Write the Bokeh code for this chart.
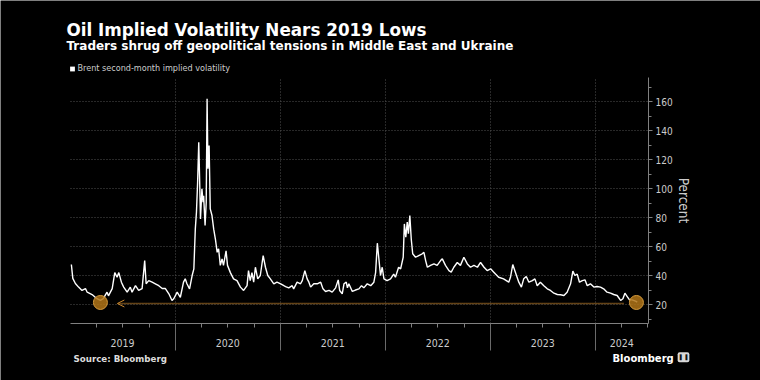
import pandas as pd
from bokeh.plotting import figure
from bokeh.models import (Range1d, FixedTicker, Label, Arrow, OpenHead, Grid,
                          ColumnDataSource, CustomJSTickFormatter, DatetimeAxis,
                          LinearAxis, Legend, LegendItem)
from bokeh.embed import file_html
from bokeh.resources import INLINE

TITLE = "Oil Implied Volatility Nears 2019 Lows"
SUBTITLE = "Traders shrug off geopolitical tensions in Middle East and Ukraine"
LEGEND_TEXT = "Brent second-month implied volatility"
SOURCE = "Source:  Bloomberg"
BRAND = "Bloomberg"
Y_LABEL = "Percent"

years = [2019, 2020, 2021, 2022, 2023, 2024]
year_labels = ["2019", "2020", "2021", "2022", "2023", "2024"]
y_ticks = [20, 40, 60, 80, 100, 120, 140, 160]
y_minor = [10, 30, 50, 70, 90, 110, 130, 150, 170]

dates = [
    "2019-01-04", "2019-01-09", "2019-01-18", "2019-01-29", "2019-02-10", "2019-02-22",
    "2019-02-28", "2019-03-17", "2019-04-03", "2019-04-15", "2019-04-25", "2019-05-08",
    "2019-05-13", "2019-05-26", "2019-06-04", "2019-06-12", "2019-06-18", "2019-06-27",
    "2019-07-05", "2019-07-17", "2019-07-28", "2019-08-03", "2019-08-15", "2019-08-26",
    "2019-09-07", "2019-09-16", "2019-09-21", "2019-09-30", "2019-10-12", "2019-10-23",
    "2019-11-04", "2019-11-16", "2019-11-27", "2019-12-09", "2019-12-20", "2019-12-26",
    "2020-01-07", "2020-01-18", "2020-01-29", "2020-02-04", "2020-02-10", "2020-02-19",
    "2020-02-28", "2020-03-05", "2020-03-10", "2020-03-14", "2020-03-18", "2020-03-22",
    "2020-03-25", "2020-03-28", "2020-04-02", "2020-04-06", "2020-04-08", "2020-04-13",
    "2020-04-17", "2020-04-20", "2020-04-23", "2020-04-27", "2020-05-01", "2020-05-07",
    "2020-05-13", "2020-05-19", "2020-05-25", "2020-05-30", "2020-06-05", "2020-06-11",
    "2020-06-16", "2020-06-25", "2020-06-30", "2020-07-10", "2020-07-21", "2020-08-02",
    "2020-08-14", "2020-08-25", "2020-09-06", "2020-09-11", "2020-09-17", "2020-09-23",
    "2020-09-29", "2020-10-05", "2020-10-13", "2020-10-22", "2020-11-01", "2020-11-09",
    "2020-11-17", "2020-11-26", "2020-12-08", "2020-12-19",
    "2021-01-01", "2021-01-12", "2021-01-18", "2021-01-29", "2021-02-10", "2021-02-15",
    "2021-02-27", "2021-03-11", "2021-03-17", "2021-03-26", "2021-04-03", "2021-04-09",
    "2021-04-15", "2021-04-26", "2021-05-08", "2021-05-20", "2021-05-28", "2021-06-06",
    "2021-06-18", "2021-06-29", "2021-07-11", "2021-07-20", "2021-07-25", "2021-08-03",
    "2021-08-09", "2021-08-17", "2021-08-21", "2021-08-26", "2021-09-07", "2021-09-18",
    "2021-09-30", "2021-10-09", "2021-10-17", "2021-10-29", "2021-11-10", "2021-11-21",
    "2021-11-27", "2021-12-03", "2021-12-09", "2021-12-14", "2021-12-20", "2021-12-26",
    "2022-01-06", "2022-01-18", "2022-01-29", "2022-02-04", "2022-02-15", "2022-02-22",
    "2022-03-03", "2022-03-07", "2022-03-12", "2022-03-17", "2022-03-21", "2022-03-26",
    "2022-03-31", "2022-04-05", "2022-04-15", "2022-04-26", "2022-05-08", "2022-05-14",
    "2022-05-20", "2022-05-26", "2022-06-06", "2022-06-18", "2022-06-29", "2022-07-11",
    "2022-07-17", "2022-07-28", "2022-08-09", "2022-08-17", "2022-08-26", "2022-09-07",
    "2022-09-18", "2022-09-30", "2022-10-12", "2022-10-23", "2022-11-04", "2022-11-16",
    "2022-11-27", "2022-12-09", "2022-12-20",
    "2023-01-01", "2023-01-12", "2023-01-18", "2023-01-29", "2023-02-15", "2023-03-05",
    "2023-03-11", "2023-03-19", "2023-03-28", "2023-04-09", "2023-04-18", "2023-04-26",
    "2023-05-05", "2023-05-14", "2023-05-26", "2023-06-04", "2023-06-12", "2023-06-23",
    "2023-07-05", "2023-07-17", "2023-07-28", "2023-08-09", "2023-08-21", "2023-09-01",
    "2023-09-13", "2023-09-24", "2023-10-06", "2023-10-14", "2023-10-21", "2023-10-29",
    "2023-11-06", "2023-11-16", "2023-11-25", "2023-12-03", "2023-12-14", "2023-12-26",
    "2024-01-06", "2024-01-18", "2024-01-29", "2024-02-10", "2024-02-22", "2024-03-04",
    "2024-03-16", "2024-03-28", "2024-04-05", "2024-04-12", "2024-04-20", "2024-04-28",
    "2024-05-07", "2024-05-19", "2024-05-25",
]
vol = [
    47.6, 38, 34.5, 32, 29.7, 31,
    28.5, 26.9, 24, 22.8, 24, 28.5,
    26, 31, 42, 38.8, 42, 35.4,
    32, 28.5, 32, 28.5, 33, 29.7,
    31, 50.3, 34.3, 36.5, 35.4, 34.3,
    33, 31, 31, 27.4, 22.8, 24,
    28.5, 25, 35.4, 37.7, 34.3, 30.8,
    40, 44.6, 72, 83.6, 104, 132,
    106.7, 79, 99.8, 90.6, 95, 74.5,
    90.6, 162, 113.6, 129.7, 86, 81.4,
    72, 65, 56, 58.4, 47, 51.5,
    47, 57, 47, 42, 37.7, 36.5,
    32, 29.7, 33, 43.4, 36.5, 42,
    35.4, 45.7, 37.7, 40, 53.8, 45.7,
    40, 37.7, 34.3, 35.4,
    34.3, 33, 32.4, 31.5, 33, 30.8,
    35.4, 34.3, 36.5, 43.4, 37.7, 35.4,
    32, 34.3, 34.3, 35.4, 30.8, 29,
    29.7, 28.5, 31.5, 37, 29.7, 27.4,
    34.3, 35.4, 31.5, 34.3, 29, 30,
    30.8, 33, 31.5, 34.3, 33, 35.4,
    42, 62.3, 50.3, 40, 45.7, 37.7,
    36.5, 37.7, 41, 38.8, 45.7, 44.6,
    52.6, 75.6, 66.4, 76.8, 68.8, 81.4,
    65, 55, 52.6, 53.8, 55, 56,
    50.3, 45.7, 47, 48, 47, 50.3,
    51.5, 47, 43.4, 42.3, 45.7, 49,
    47, 52.6, 48, 45.7, 47, 45.7,
    49, 45.7, 43.4,
    44.6, 42.3, 41, 38.8, 37.7, 35.4,
    38.8, 47.6, 42.3, 35.4, 32, 37.7,
    39.3, 35.4, 36.5, 37.7, 33, 35.4,
    33, 30.8, 29.7, 27.8, 26.9, 26.7,
    26.2, 28.5, 34.3, 43, 40, 41,
    35.4, 36.5, 37, 33, 34.3, 32,
    32.4, 32, 30.8, 28.5, 27.8, 26.9,
    26.2, 22.8, 24, 27.8, 25.5, 23.2,
    23.2, 22.3, 21.6,
]

low_dates = ["2019-04-15", "2024-05-22"]
low_vals = [21.4, 21.4]
arrow_from = "2024-04-07"
arrow_to = "2019-06-13"
arrow_level = 20.7

x_start, x_end = "2019-01-01", "2024-07-03"
y_min, y_max = 6.9, 176.6

# layout (pixels)
W, H = 760, 380
PX_L, PX_R, PX_T, PX_B = 70, 648, 77, 323

ORANGE = "#c9872e"
GRID = "#505050"
AXIS = "#808080"
TXT = "#cccccc"
REG = "'DejaVu Sans Condensed', 'DejaVu Sans', sans-serif"
BOLD = "DejaVu Sans"


def ms(s):
    return pd.Timestamp(s).value / 1e6


mpp = (ms(x_end) - ms(x_start)) / (PX_R - PX_L)
vpp = (y_max - y_min) / (PX_B - PX_T)
xr = Range1d(ms(x_start) - PX_L * mpp, ms(x_end) + (W - PX_R) * mpp)
yr = Range1d(y_min - (H - PX_B) * vpp, y_max + PX_T * vpp)

p = figure(width=W, height=H, x_range=xr, y_range=yr,
           x_axis_location=None, y_axis_location=None,
           output_backend="svg", toolbar_location=None,
           background_fill_color="black", border_fill_color="black",
           outline_line_color=None, min_border=0,
           min_border_left=0, min_border_right=0, min_border_top=0, min_border_bottom=0)
p.outline_line_color = None
# drop the automatic grids; our own grids follow
p.center = [r for r in p.center if not isinstance(r, Grid)]

# ---- grids
year_ticks = [ms(f"{y}-01-01") for y in years[1:]]
gx = Grid(dimension=0, ticker=FixedTicker(ticks=year_ticks), cross_bounds=(y_min, y_max),
          grid_line_color=GRID, grid_line_dash="1 2", grid_line_width=1)
gy = Grid(dimension=1, ticker=FixedTicker(ticks=y_ticks),
          cross_bounds=(ms(x_start), ms(x_end)),
          grid_line_color=GRID, grid_line_dash="1 2", grid_line_width=1)
p.add_layout(gx, "center")
p.add_layout(gy, "center")

# ---- x axis: quarter ticks (short), year boundaries (long), year names centred
quarter_ticks = [ms(f"{y}-{m:02d}-01") for y in years for m in (4, 7, 10)
                 if ms(f"{y}-{m:02d}-01") <= ms(x_end)]
label_ticks = []
for y in years:
    a = ms(f"{y}-01-01")
    b = min(ms(f"{y + 1}-01-01"), ms(x_end))
    mid = (a + b) / 2
    label_ticks.append(min(quarter_ticks, key=lambda t: abs(t - mid)))

xa = DatetimeAxis(fixed_location=y_min, bounds=(ms(x_start), ms(x_end)),
                  ticker=FixedTicker(ticks=quarter_ticks, minor_ticks=year_ticks),
                  formatter=CustomJSTickFormatter(
                      args=dict(lt=label_ticks, lab=year_labels),
                      code="for (let i = 0; i < lt.length; i++) {"
                           " if (Math.abs(lt[i] - tick) < 1) return lab[i]; } return '';"),
                  major_tick_out=4, major_tick_in=0, minor_tick_out=27, minor_tick_in=0,
                  axis_line_color=AXIS, major_tick_line_color=AXIS,
                  minor_tick_line_color="#6a6a6a",
                  major_label_standoff=-12, major_label_text_color=TXT,
                  major_label_text_font=REG, major_label_text_font_size="10.5px")
p.add_layout(xa, "below")

ya = LinearAxis(fixed_location=ms(x_end), bounds=(y_min, y_max),
                ticker=FixedTicker(ticks=y_ticks, minor_ticks=y_minor),
                axis_line_color=AXIS, major_tick_line_color=AXIS, minor_tick_line_color=AXIS,
                major_tick_out=4, major_tick_in=0, minor_tick_out=3, minor_tick_in=0,
                major_label_standoff=3, major_label_text_color=TXT,
                major_label_text_font=REG, major_label_text_font_size="10px",
                axis_label=Y_LABEL, axis_label_text_color=TXT, axis_label_text_font=REG,
                axis_label_text_font_style="normal", axis_label_text_font_size="13.5px",
                axis_label_standoff=0)
p.add_layout(ya, "right")

# ---- data
src = ColumnDataSource(dict(x=pd.to_datetime(dates), y=vol))
p.line("x", "y", source=src, line_color="white", line_width=1.4)

arrow = Arrow(end=OpenHead(size=7, line_color=ORANGE, line_width=1),
              x_start=ms(arrow_from), y_start=arrow_level,
              x_end=ms(arrow_to), y_end=arrow_level,
              line_color=ORANGE, line_width=1.4, line_dash="1 1")
p.add_layout(arrow)

p.scatter(x=pd.to_datetime(low_dates), y=low_vals, size=14, marker="circle",
          fill_color="#b07418", fill_alpha=0.85, line_color="#d49a3c", line_width=1)

# ---- legend (square key; the key renderer itself draws nothing in the plot)
key = p.scatter(x=pd.to_datetime(low_dates), y=low_vals, size=0, marker="square",
                fill_color="white", line_alpha=0)
leg = Legend(items=[LegendItem(label=LEGEND_TEXT, renderers=[key])],
             location=(65.5, H - 74.5), padding=0, margin=0, spacing=0,
             glyph_width=12, glyph_height=13, label_height=13, label_standoff=0,
             label_text_font=REG, label_text_font_size="9px", label_text_color=TXT,
             background_fill_alpha=0, border_line_color=None)
p.add_layout(leg)

# ---- titles and footer
def lab(text, x, baseline, size, color="white", font=BOLD, style="bold"):
    p.add_layout(Label(x=x, y=H - baseline, x_units="screen", y_units="screen", text=text,
                       text_color=color, text_font=font, text_font_style=style,
                       text_font_size=size, text_baseline="alphabetic"))


lab(TITLE, 66, 29.2, "16.8px")
lab(SUBTITLE, 66, 45.8, "12px")
lab(SOURCE, 73, 358.1, "8.7px", color="#dddddd")
lab(BRAND, 612, 357.7, "10px")

# small brand badge next to the wordmark
p.add_layout(Label(x=683, y=H - 356.7, x_units="screen", y_units="screen", text="\u258c\u2590",
                   text_color="#111111", text_font=BOLD, text_font_size="5px",
                   text_align="center", text_baseline="middle",
                   background_fill_color="#d8d8d8", padding=2, border_radius=2))

open("out.html", "w").write(file_html(p, INLINE))
